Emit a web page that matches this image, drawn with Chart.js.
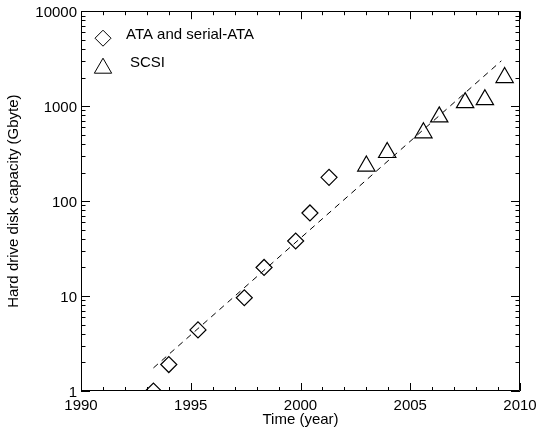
<!DOCTYPE html>
<html>
<head>
<meta charset="utf-8">
<script src="https://cdn.jsdelivr.net/npm/chart.js@4.4.1/dist/chart.umd.min.js"></script>
<style>
  html, body { margin: 0; padding: 0; background: #fff; }
  #wrap { width: 537px; height: 429px; }
</style>
</head>
<body>
<div id="wrap"><canvas id="hddChart" width="537" height="429"></canvas></div>
<script>
// --- DATA ---
const ataYears = [1993.3, 1994.0, 1995.33, 1997.44, 1998.34, 1999.78, 2000.43, 2001.3];
const ataCapacity = [1.0, 1.9, 4.4, 9.6, 20, 38, 75, 178];

const scsiYears = [2003.0, 2003.95, 2005.6, 2006.32, 2007.5, 2008.4, 2009.3];
const scsiCapacity = [234, 325, 524, 771, 1090, 1170, 2000];

const fitYears = [1993.3, 2009.15];
const fitCapacity = [1.75, 3000];

const xTicks = [1990, 1995, 2000, 2005, 2010];
const yTicks = [1, 10, 100, 1000, 10000];

const seriesLabels = ['ATA and serial-ATA', 'SCSI'];

const FONT = "'Liberation Sans', Arial, Helvetica, sans-serif";
const toPoints = (xs, ys) => xs.map((x, i) => ({ x: x, y: ys[i] }));

// --- PLUGINS ---
// inward ticks on all four sides + box frame
const frameTicks = {
    id: 'frameTicks',
    afterDraw(chart) {
        const { ctx, chartArea: a, scales: { x, y } } = chart;
        ctx.save();
        ctx.strokeStyle = '#000';
        ctx.lineWidth = 1;
        ctx.beginPath();
        ctx.rect(Math.round(a.left) + 0.5, Math.round(a.top) + 0.5, Math.round(a.right - a.left) - 1, Math.round(a.bottom - a.top) - 1);
        ctx.stroke();

        ctx.beginPath();
        for (let yr = x.min; yr <= x.max; yr++) {
            const px = Math.round(x.getPixelForValue(yr)) + 0.5;
            const len = yr % 5 === 0 ? 8 : 4;
            ctx.moveTo(px, a.bottom); ctx.lineTo(px, a.bottom - len);
            ctx.moveTo(px, a.top); ctx.lineTo(px, a.top + len);
        }
        for (let d = 1; d <= y.max; d *= 10) {
            for (let m = 1; m <= 9; m++) {
                const v = d * m;
                if (v > y.max) break;
                const py = Math.round(y.getPixelForValue(v)) + 0.5;
                const len = m === 1 ? 9 : 4.5;
                ctx.moveTo(a.left, py); ctx.lineTo(a.left + len, py);
                ctx.moveTo(a.right, py); ctx.lineTo(a.right - len, py);
            }
        }
        ctx.stroke();
        ctx.restore();
    }
};

// legend in the upper left of the plot
const boxLegend = {
    id: 'boxLegend',
    afterDraw(chart) {
        const { ctx, chartArea: a } = chart;
        const rows = [
            { ds: chart.data.datasets[0], y: a.top + 27 },
            { ds: chart.data.datasets[1], y: a.top + 55 }
        ];
        ctx.save();
        rows.forEach((r, i) => {
            ctx.strokeStyle = '#000';
            ctx.fillStyle = 'rgba(0,0,0,0)';
            Chart.helpers.drawPoint(ctx, {
                pointStyle: r.ds.pointStyle,
                radius: r.ds.pointRadius,
                rotation: 0,
                borderWidth: r.ds.borderWidth
            }, a.left + 22, r.y + (i === 1 ? 2 : 0));
            ctx.fillStyle = '#000';
            ctx.font = '15px ' + FONT;
            ctx.textBaseline = 'middle';
            ctx.textAlign = 'left';
            ctx.fillText(r.ds.label, a.left + (i === 0 ? 45 : 49), r.y - 3);
        });
        ctx.restore();
    }
};

new Chart(document.getElementById('hddChart'), {
    type: 'scatter',
    data: {
        datasets: [
            {
                label: seriesLabels[0],
                data: toPoints(ataYears, ataCapacity),
                pointStyle: 'rectRot',
                pointRadius: 8,
                borderColor: '#000',
                backgroundColor: 'rgba(0,0,0,0)',
                borderWidth: 1.2
            },
            {
                label: seriesLabels[1],
                data: toPoints(scsiYears, scsiCapacity),
                pointStyle: 'triangle',
                pointRadius: 10,
                borderColor: '#000',
                backgroundColor: 'rgba(0,0,0,0)',
                borderWidth: 1.2
            },
            {
                type: 'line',
                label: 'fit',
                data: toPoints(fitYears, fitCapacity),
                borderColor: '#000',
                borderWidth: 1,
                borderDash: [6, 5],
                pointRadius: 0,
                fill: false
            }
        ]
    },
    options: {
        responsive: false,
        animation: false,
        layout: { padding: { left: 0, top: 10, right: 17, bottom: 0 } },
        plugins: { legend: { display: false }, tooltip: { enabled: false } },
        scales: {
            x: {
                type: 'linear',
                min: 1990,
                max: 2010,
                afterBuildTicks: s => { s.ticks = xTicks.map(v => ({ value: v })); },
                afterFit: s => { s.height = 38; s.paddingLeft = 0; s.paddingRight = 0; },
                grid: { display: false, drawTicks: false },
                border: { display: false },
                ticks: { color: '#000', font: { family: FONT, size: 15 }, padding: 6, maxRotation: 0, callback: v => String(v) },
                title: { display: true, text: 'Time (year)', color: '#000', font: { family: FONT, size: 15 }, padding: { top: 0, bottom: 0 } }
            },
            y: {
                type: 'logarithmic',
                min: 1,
                max: 10000,
                afterBuildTicks: s => { s.ticks = yTicks.map(v => ({ value: v })); },
                afterFit: s => { s.width = 81; s.paddingTop = 0; s.paddingBottom = 0; },
                grid: { display: false, drawTicks: false },
                border: { display: false },
                ticks: { color: '#000', font: { family: FONT, size: 15 }, padding: 4, labelOffset: 2, callback: v => String(v) },
                title: { display: true, text: 'Hard drive disk capacity (Gbyte)', color: '#000', font: { family: FONT, size: 15 }, padding: { top: 5, bottom: 0 } }
            }
        }
    },
    plugins: [frameTicks, boxLegend]
});
</script>
</body>
</html>
